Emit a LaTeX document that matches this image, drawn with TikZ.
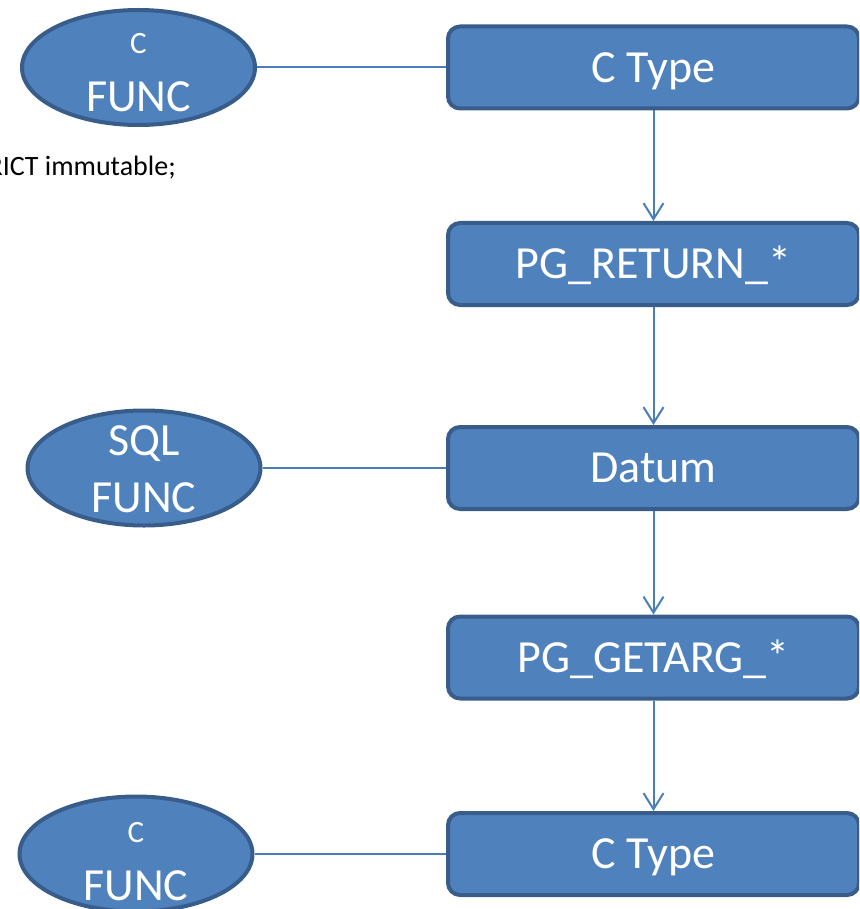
\documentclass[tikz,border=0pt]{standalone}
\usepackage{fontspec}
\setmainfont{Carlito}
\usetikzlibrary{shapes.geometric,arrows.meta}
\definecolor{fillblue}{HTML}{4F81BD}
\definecolor{edgeblue}{HTML}{385D8A}
\definecolor{linkblue}{HTML}{4A7EBB}
\begin{document}
\begin{tikzpicture}[x=1pt,y=-1pt,
  stagebox/.style={rectangle, rounded corners=12pt, fill=fillblue, draw=edgeblue,
    line width=4pt, minimum width=411pt, minimum height=82pt, text=white,
    font=\fontsize{46pt}{50pt}\selectfont, text height=29.5pt, text depth=0pt, inner sep=0pt},
  funcoval/.style={ellipse, fill=fillblue, draw=edgeblue, line width=4pt,
    minimum width=233pt, minimum height=115pt, inner sep=0pt},
  smalltxt/.style={text=white, anchor=base, inner sep=0pt, font=\fontsize{31pt}{35pt}\selectfont},
  bigtxt/.style={text=white, anchor=base, inner sep=0pt, font=\fontsize{46pt}{50pt}\selectfont},
  link/.style={draw=linkblue, line width=2pt},
  flow/.style={link, -{Straight Barb[length=16pt, width=20pt, line width=2pt]}}
]
\useasboundingbox (0,0) rectangle (859,909);
\clip (0,0) rectangle (859,909);

% chain of conversions
\node[stagebox] (ctop)   at (653.5,67.5) {C Type};
\node[stagebox] (ret)    at (653.5,264)  {PG\_RETURN\_*};
\node[stagebox] (datum)  at (653.5,468)  {Datum};
\node[stagebox] (getarg) at (653.5,657.5){PG\_GETARG\_*};
\node[stagebox] (cbot)   at (653.5,854)  {C Type};

% function ovals
\node[funcoval] (cfunc1) at (138.5,67.5) {};
\node[smalltxt] (cfunc1a) at (138.5,54)  {C};
\node[bigtxt]   (cfunc1b) at (138.5,112) {FUNC};

\node[funcoval] (sqlfunc) at (144,468) {};
\node[bigtxt]   (sqlfunca) at (144,455) {SQL};
\node[bigtxt]   (sqlfuncb) at (144,512) {FUNC};

\node[funcoval] (cfunc2) at (136,854) {};
\node[smalltxt] (cfunc2a) at (136,842) {C};
\node[bigtxt]   (cfunc2b) at (136,900) {FUNC};

% SQL fragment
\node[anchor=base east, inner sep=0pt, font=\fontsize{28pt}{32pt}\selectfont] (decl) at (176,176) {STRICT immutable;};

% connectors
\draw[link] (cfunc1.east) -- (ctop.west);
\draw[link] (sqlfunc.east) -- (datum.west);
\draw[link] (cfunc2.east) -- (cbot.west);

\draw[flow] (ctop.south) -- (ret.north);
\draw[flow] (ret.south) -- (datum.north);
\draw[flow] (datum.south) -- (getarg.north);
\draw[flow] (getarg.south) -- (cbot.north);
\end{tikzpicture}
\end{document}
